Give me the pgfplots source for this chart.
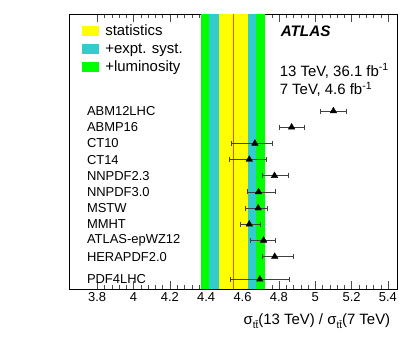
\documentclass[border=0pt]{standalone}
\usepackage{fontspec}
\setmainfont{Liberation Sans}
\usepackage{pgfplots}
\pgfplotsset{compat=1.18}

\definecolor{rootyellow}{RGB}{255,255,0}
\definecolor{rootcyan}{RGB}{51,204,204}
\definecolor{rootgreen}{RGB}{0,255,0}
\definecolor{rootred}{RGB}{240,80,40}

\begin{document}
\begin{tikzpicture}
\useasboundingbox (-69bp,-60bp) rectangle (345bp,289bp);
\begin{axis}[
    at={(0,0)}, anchor=south west,
    scale only axis,
    width=328bp, height=275bp,
    xmin=3.645, xmax=5.45,
    ymin=0, ymax=17,
    xtick={3.8,4,...,5.4},
    minor x tick num=4,
    ytick=\empty,
    tick align=inside,
    major tick length=8bp,
    minor tick length=4bp,
    tick style={black!70},
    /pgf/number format/assume math mode=true,
    ticklabel style={font=\fontsize{13}{15}\selectfont},
    xlabel={σ\raisebox{-4.5bp}{\fontsize{10}{10}\selectfont t\=t}(13 TeV) / σ\raisebox{-4.5bp}{\fontsize{10}{10}\selectfont t\=t}(7 TeV)},
    xlabel style={at={(axis description cs:0.99,0)}, anchor=north east, yshift=-21bp, font=\fontsize{15}{17}\selectfont},
    legend style={at={(0.039,0.965)}, anchor=north west, draw=none, fill=none,
        font=\fontsize{15}{17}\selectfont, row sep=3.7bp, inner sep=0pt,
        cells={anchor=west}, nodes={inner xsep=6bp, inner ysep=1.2bp}},
    legend image code/.code={\fill[#1, draw=none] (0bp,-5.2bp) rectangle (17.3bp,5.2bp);},
    clip=false,
]
\addlegendimage{fill=rootyellow}
\addlegendentry{statistics}
\addlegendimage{fill=rootcyan}
\addlegendentry{+expt. syst.}
\addlegendimage{fill=rootgreen}
\addlegendentry{+luminosity}

% measurement bands
\addplot[fill=rootgreen, draw=none, forget plot] coordinates {(4.370,0) (4.725,0) (4.725,17) (4.370,17)} -- cycle;
\addplot[fill=rootcyan, draw=none, forget plot] coordinates {(4.418,0) (4.673,0) (4.673,17) (4.418,17)} -- cycle;
\addplot[fill=rootyellow, draw=none, forget plot] coordinates {(4.468,0) (4.628,0) (4.628,17) (4.468,17)} -- cycle;
\addplot[rootred, line width=0.6bp, forget plot] coordinates {(4.55,0) (4.55,17)};

% predictions
\addplot[only marks, mark=triangle*, mark size=3.8bp, black, forget plot,
    error bars/.cd, x dir=both, x explicit,
    error bar style={black!75, line width=0.6bp},
    error mark options={rotate=90, mark size=2.5bp, black!75}]
coordinates {
(5.100,11)  += (0.070,0) -= (0.070,0)
(4.870,10)  += (0.070,0) -= (0.070,0)
(4.668,9)   += (0.097,0) -= (0.132,0)
(4.637,8)   += (0.092,0) -= (0.110,0)
(4.776,7)   += (0.078,0) -= (0.070,0)
(4.688,6)   += (0.090,0) -= (0.060,0)
(4.686,5)   += (0.052,0) -= (0.069,0)
(4.637,4)   += (0.058,0) -= (0.052,0)
(4.716,3)   += (0.066,0) -= (0.072,0)
(4.777,2)   += (0.102,0) -= (0.068,0)
(4.695,0.6) += (0.160,0) -= (0.161,0)
};

\begin{scope}[every node/.style={anchor=west, inner sep=0pt, font=\fontsize{13}{15}\selectfont}]
\node at (axis cs:3.743,11) {ABM12LHC};
\node at (axis cs:3.743,10) {ABMP16};
\node at (axis cs:3.743,9) {CT10};
\node at (axis cs:3.743,8) {CT14};
\node at (axis cs:3.743,7) {NNPDF2.3};
\node at (axis cs:3.743,6) {NNPDF3.0};
\node at (axis cs:3.743,5) {MSTW};
\node at (axis cs:3.743,4) {MMHT};
\node at (axis cs:3.743,3) {ATLAS-epWZ12};
\node at (axis cs:3.743,2) {HERAPDF2.0};
\node at (axis cs:3.743,0.6) {PDF4LHC};
\end{scope}

\node[anchor=west, inner sep=0pt, font=\fontsize{15.3}{17}\selectfont\bfseries\itshape] at (rel axis cs:0.645,0.938) {ATLAS};
\node[anchor=west, inner sep=0pt, font=\fontsize{15}{17}\selectfont] at (rel axis cs:0.642,0.793) {13 TeV, 36.1 fb\textsuperscript{-1}};
\node[anchor=west, inner sep=0pt, font=\fontsize{15}{17}\selectfont] at (rel axis cs:0.642,0.727) {7 TeV, 4.6 fb\textsuperscript{-1}};
\end{axis}
\end{tikzpicture}
\end{document}
